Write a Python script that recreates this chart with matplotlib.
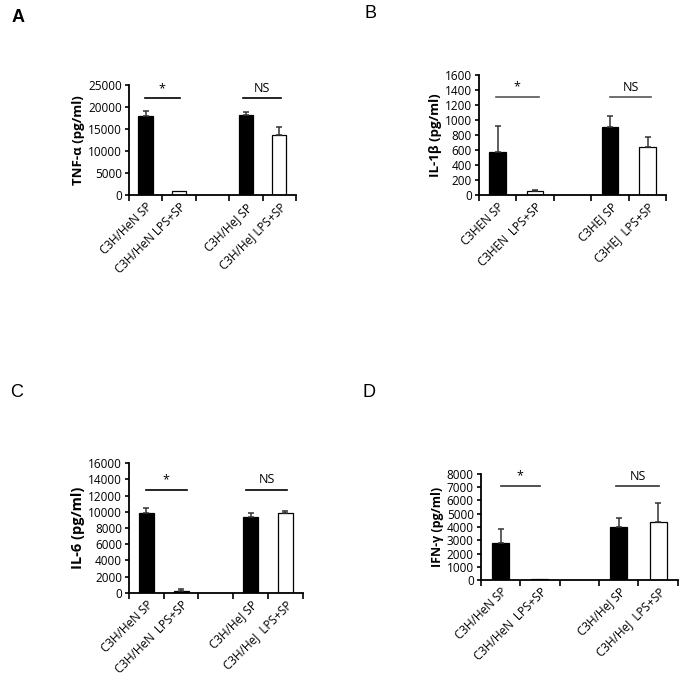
import matplotlib.pyplot as plt
import numpy as np

plt.rcParams['font.family'] = ['Open Sans', 'DejaVu Sans']

# panel A: TNF-alpha
labels_a = ["C3H/HeN SP", "C3H/HeN LPS+SP", "", "C3H/HeJ SP", "C3H/HeJ LPS+SP"]
tnf_mean = [17900, 1000, 0, 18100, 13700]
tnf_err = [1250, 0, 0, 750, 1700]

# panel B: IL-1beta
labels_b = ["C3HEN SP", "C3HEN  LPS+SP", "", "C3HEJ SP", "C3HEJ  LPS+SP"]
il1b_mean = [578, 53, 0, 902, 644]
il1b_err = [340, 12, 0, 150, 135]

# panel C: IL-6
labels_c = ["C3H/HeN SP", "C3H/HeN  LPS+SP", "", "C3H/HeJ SP", "C3H/HeJ  LPS+SP"]
il6_mean = [9850, 290, 0, 9390, 9880]
il6_err = [620, 150, 0, 480, 180]

# panel D: IFN-gamma
labels_d = ["C3H/HeN SP", "C3H/HeN  LPS+SP", "", "C3H/HeJ SP", "C3H/HeJ  LPS+SP"]
ifn_mean = [2780, 110, 0, 3990, 4390]
ifn_err = [1060, 0, 0, 680, 1410]

bar_colors = ["black", "white", "white", "black", "white"]


def draw_panel(ax, labels, mean, err, ymax, ystep, ylabel, ylab_size, sig_y,
               sig_col, star_line, ns_line, c_bar2="white"):
    x = np.arange(len(labels))
    cols = list(bar_colors)
    cols[1] = c_bar2
    for i in range(len(labels)):
        if labels[i] == "":
            continue
        ax.bar(x[i], mean[i], width=0.43, color=cols[i], edgecolor="black",
               linewidth=0.9, zorder=2)
        if err[i] > 0:
            ax.errorbar(x[i], mean[i], yerr=[[0], [err[i]]], fmt="none",
                        ecolor="#333333", elinewidth=1.1, capsize=2,
                        capthick=1.1, zorder=3)
    ax.set_xlim(-0.5, 4.5)
    ax.set_ylim(0, ymax)
    ax.set_yticks(np.arange(0, ymax + 1, ystep))
    ax.set_xticks(np.arange(-0.5, 5, 1), minor=False)
    ax.set_xticklabels([])
    ax.set_xticks(x, minor=True)
    ax.set_xticklabels(labels, minor=True, rotation=45, ha="right",
                       rotation_mode="anchor", fontsize=8.5)
    ax.tick_params(axis="x", which="minor", length=0, pad=4)
    ax.tick_params(axis="x", which="major", length=4, width=1.2, direction="out")
    ax.tick_params(axis="y", length=3, width=1.2, labelsize=8.5, pad=2)
    for s in ["top", "right"]:
        ax.spines[s].set_visible(False)
    for s in ["left", "bottom"]:
        ax.spines[s].set_linewidth(1.3)
    ax.set_ylabel(ylabel, fontsize=ylab_size, fontweight="bold", labelpad=2)
    ax.plot(star_line, [sig_y, sig_y], color=sig_col, lw=1.2, clip_on=False)
    ax.plot(ns_line, [sig_y, sig_y], color=sig_col, lw=1.2, clip_on=False)
    ax.text(np.mean(star_line), sig_y + ymax * 0.03, "*", ha="center",
            va="bottom", fontsize=9)
    ax.text(np.mean(ns_line), sig_y + ymax * 0.03, "NS", ha="center",
            va="bottom", fontsize=9)


fig = plt.figure(figsize=(6.82, 6.80), dpi=100)

ax_a = fig.add_axes([0.189, 0.713, 0.245, 0.162])
draw_panel(ax_a, labels_a, tnf_mean, tnf_err, 25000, 5000, "TNF-α (pg/ml)",
           9.5, 22000, "black", [-0.03, 1.02], [2.9, 4.04])

ax_b = fig.add_axes([0.702, 0.713, 0.275, 0.177])
draw_panel(ax_b, labels_b, il1b_mean, il1b_err, 1600, 200, "IL-1β (pg/ml)",
           9.5, 1300, "#555555", [-0.05, 1.1], [3.0, 4.1])

ax_c = fig.add_axes([0.189, 0.128, 0.255, 0.191])
draw_panel(ax_c, labels_c, il6_mean, il6_err, 16000, 2000, "IL-6 (pg/ml)",
           10.5, 12700, "black", [-0.02, 1.17], [2.88, 4.05], c_bar2="black")

ax_d = fig.add_axes([0.705, 0.147, 0.289, 0.156])
draw_panel(ax_d, labels_d, ifn_mean, ifn_err, 8000, 1000, "IFN-γ (pg/ml)",
           9, 7100, "#333333", [0.0, 1.0], [2.93, 4.03])

panel_font = ["Liberation Sans", "DejaVu Sans"]
fig.text(12 / 682, 1 - 17 / 680, "A", fontsize=13, fontweight="bold",
         family=panel_font, va="center")
fig.text(364 / 682, 1 - 14 / 680, "B", fontsize=13, family=panel_font,
         va="center")
fig.text(10 / 682, 1 - 393 / 680, "C", fontsize=13, family=panel_font,
         va="center")
fig.text(362 / 682, 1 - 393 / 680, "D", fontsize=13, family=panel_font,
         va="center")

fig.savefig("out.png", dpi=100)
